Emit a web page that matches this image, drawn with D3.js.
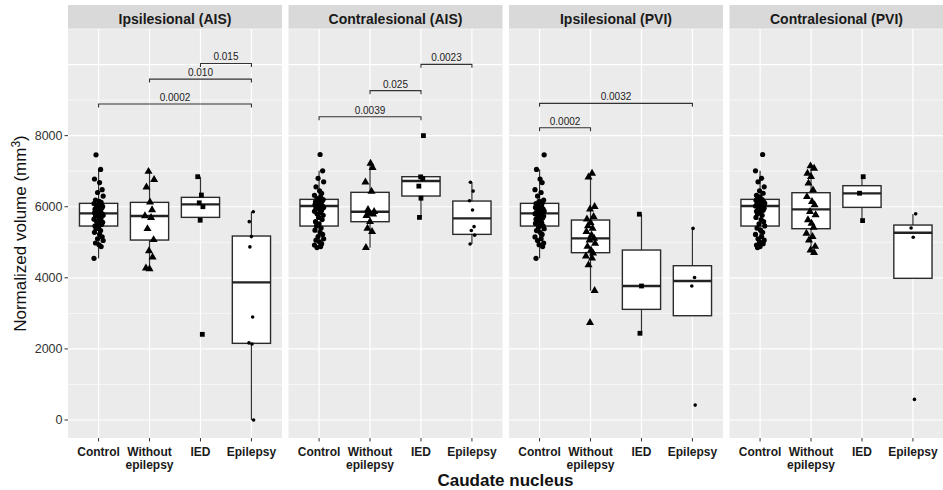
<!DOCTYPE html>
<html>
<head>
<meta charset="utf-8">
<script src="https://cdn.jsdelivr.net/npm/d3@7"></script>
<style>
  body { margin: 0; background: #fff; }
  text { font-family: "Liberation Sans", Arial, sans-serif; }
</style>
</head>
<body>
<svg id="chart" width="943" height="490"></svg>
<script>
// facets and groups
var panels = ["Ipsilesional (AIS)", "Contralesional (AIS)", "Ipsilesional (PVI)", "Contralesional (PVI)"];
var groups = ["Control", "Without epilepsy", "IED", "Epilepsy"];
var groupLabels = [["Control"], ["Without", "epilepsy"], ["IED"], ["Epilepsy"]];
var yTicks = [0, 2000, 4000, 6000, 8000];

// box statistics, one row per panel, one value per group
var q1Vals  = [[5457, 5063, 5701, 2157], [5457, 5579, 6301, 5223], [5457, 4707, 3113, 2934], [5457, 5382, 5982, 3986]];
var medVals = [[5814, 5739, 6067, 3873], [6020, 5860, 6723, 5673], [5814, 5110, 3769, 3910], [6020, 5926, 6376, 5270]];
var q3Vals  = [[6095, 6123, 6264, 5176], [6207, 6405, 6845, 6160], [6095, 5626, 4782, 4341], [6207, 6395, 6592, 5485]];
var loVals  = [[4548, 4267, 5607, 0],    [4848, 4848, 5701, 4951], [4548, 3638, 2438, 2934], [4848, 4707, 5607, 3986]];
var hiVals  = [[7052, 6986, 6845, 5860], [7014, 7220, 6845, 6686], [7052, 6939, 5786, 5392], [7014, 7145, 6845, 5795]];

// individual volumes
var ctrlIpsi = [7460, 7050, 6780, 6680, 6480, 6400, 6300, 6190, 6150, 6120, 6090, 6060, 6030, 6010, 5980, 5960,
                5930, 5900, 5880, 5850, 5830, 5810, 5800, 5780, 5760, 5740, 5710, 5680, 5650, 5620, 5590, 5560,
                5530, 5500, 5460, 5420, 5380, 5330, 5280, 5220, 5150, 5100, 5050, 4980, 4930, 4880, 4550];
var ctrlContra = [7470, 7010, 6800, 6700, 6560, 6450, 6380, 6320, 6270, 6230, 6200, 6180, 6160, 6140, 6120, 6100,
                  6080, 6060, 6040, 6020, 6000, 5980, 5960, 5930, 5900, 5870, 5840, 5800, 5760, 5700, 5640, 5580,
                  5520, 5460, 5400, 5340, 5280, 5220, 5160, 5100, 5060, 5010, 4960, 4920, 4880, 4850];
var woIpsiAIS = [6990, 6760, 6550, 6130, 5910, 5740, 5690, 5380, 5070, 4760, 4580, 4270, 4250];
var iedIpsiAIS = [6845, 6330, 6110, 6000, 5620, 2410];
var epiIpsiAIS = [5860, 5580, 5160, 4870, 2900, 2170, 2140, 0];
var woContraAIS = [7220, 7100, 6690, 6430, 5920, 5860, 5810, 5790, 5750, 5580, 5390, 5300, 4850];
var iedContraAIS = [8000, 6840, 6790, 6580, 6240, 5700];
var epiContraAIS = [6690, 6440, 6170, 5910, 5440, 5330, 5200, 4950];
var woIpsiPVI = [6940, 6830, 6000, 5930, 5720, 5650, 5550, 5460, 5390, 5300, 5200, 5110, 5060, 4970, 4880,
                 4780, 4690, 4610, 4550, 4360, 3640, 2740];
var iedIpsiPVI = [5790, 3770, 2440];
var epiIpsiPVI = [5390, 4010, 3770, 420];
var woContraPVI = [7145, 7080, 6940, 6845, 6660, 6470, 6280, 6140, 6050, 5860, 5770, 5630, 5530, 5420, 5250,
                   5160, 5060, 4880, 4780, 4710];
var iedContraPVI = [6845, 6380, 5610];
var epiContraPVI = [5800, 5400, 5140, 580];

var pointSets = [
  [ctrlIpsi, woIpsiAIS, iedIpsiAIS, epiIpsiAIS],
  [ctrlContra, woContraAIS, iedContraAIS, epiContraAIS],
  [ctrlIpsi, woIpsiPVI, iedIpsiPVI, epiIpsiPVI],
  [ctrlContra, woContraPVI, iedContraPVI, epiContraPVI]
];

// horizontal jitter, in category widths
var jitterOffsets = [-0.05, 0.04, -0.08, 0.02, 0.07, -0.02, 0.09, -0.06, 0.01, 0.05, -0.09, 0.03, -0.04, 0.08, -0.01, 0.06, -0.07, 0.0];

// significance brackets
var sigPanel = [0, 0, 0, 1, 1, 1, 2, 2];
var sigFrom  = [0, 1, 2, 0, 1, 2, 0, 0];
var sigTo    = [3, 3, 3, 2, 2, 3, 1, 3];
var sigY     = [8890, 9590, 10030, 8530, 9265, 10006, 8222, 8909];
var sigLabel = ["0.0002", "0.010", "0.015", "0.0039", "0.025", "0.0023", "0.0002", "0.0032"];

var svg = d3.select("#chart");
var panelTop = 29, panelBottom = 438, stripTop = 5;

var facet = d3.scaleBand().domain(panels).range([68, 943.5]).paddingInner(0.0295);
var y = d3.scaleLinear().domain([-506, 11000]).range([panelBottom, panelTop]);

var shapeFor = function (g, sel) {
  if (g == 0) return sel.append("circle").attr("r", 2.6);
  if (g == 1) return sel.append("path").attr("d", d3.symbol(d3.symbolTriangle).size(28)());
  if (g == 2) return sel.append("rect").attr("x", -2.4).attr("y", -2.4).attr("width", 4.8).attr("height", 4.8);
  return sel.append("circle").attr("r", 1.8);
};

panels.forEach(function (name, p) {
  var x0 = facet(name), w = facet.bandwidth();
  var x = d3.scalePoint().domain(groups).range([0, w]).padding(0.6);
  var step = x.step();
  var g = svg.append("g").attr("transform", "translate(" + x0 + ",0)");

  // strip
  g.append("rect").attr("x", 0).attr("y", stripTop).attr("width", w).attr("height", panelTop - stripTop).attr("fill", "#d9d9d9");
  g.append("text").attr("x", w / 2).attr("y", 23.5).attr("text-anchor", "middle")
    .style("font-size", "14px").style("font-weight", "bold").attr("fill", "#1a1a1a").text(name);

  // panel background + grid
  g.append("rect").attr("x", 0).attr("y", panelTop).attr("width", w).attr("height", panelBottom - panelTop).attr("fill", "#ebebeb");
  d3.range(1000, 11001, 2000).forEach(function (v) {
    g.append("line").attr("x1", 0).attr("x2", w).attr("y1", y(v)).attr("y2", y(v))
      .attr("stroke", "#fff").attr("stroke-width", 0.6);
  });
  d3.range(0, 10001, 2000).forEach(function (v) {
    g.append("line").attr("x1", 0).attr("x2", w).attr("y1", y(v)).attr("y2", y(v))
      .attr("stroke", "#fff").attr("stroke-width", 1.2);
  });
  groups.forEach(function (gr) {
    g.append("line").attr("x1", x(gr)).attr("x2", x(gr)).attr("y1", panelTop).attr("y2", panelBottom)
      .attr("stroke", "#fff").attr("stroke-width", 1.2);
  });

  // boxes
  groups.forEach(function (gr, i) {
    var cx = x(gr), bw = step * 0.75;
    g.append("line").attr("x1", cx).attr("x2", cx).attr("y1", y(loVals[p][i])).attr("y2", y(q1Vals[p][i]))
      .attr("stroke", "#333").attr("stroke-width", 1.2);
    g.append("line").attr("x1", cx).attr("x2", cx).attr("y1", y(q3Vals[p][i])).attr("y2", y(hiVals[p][i]))
      .attr("stroke", "#333").attr("stroke-width", 1.2);
    g.append("rect").attr("x", cx - bw / 2).attr("width", bw)
      .attr("y", y(q3Vals[p][i])).attr("height", y(q1Vals[p][i]) - y(q3Vals[p][i]))
      .attr("fill", "#fff").attr("stroke", "#2b2b2b").attr("stroke-width", 1.4);
    g.append("line").attr("x1", cx - bw / 2).attr("x2", cx + bw / 2)
      .attr("y1", y(medVals[p][i])).attr("y2", y(medVals[p][i]))
      .attr("stroke", "#222").attr("stroke-width", 2.4);

    // jittered points
    var pts = pointSets[p][i];
    var pg = g.append("g").attr("fill", "#000");
    pts.forEach(function (v, k) {
      var off = jitterOffsets[(k + i * 5 + p * 3) % jitterOffsets.length];
      if (i >= 2) off = off * 0.6;
      shapeFor(i, pg.append("g").attr("transform", "translate(" + (cx + off * step) + "," + y(v) + ")"));
    });
  });

  // x ticks and labels
  groups.forEach(function (gr, i) {
    g.append("line").attr("x1", x(gr)).attr("x2", x(gr)).attr("y1", panelBottom).attr("y2", panelBottom + 3.5)
      .attr("stroke", "#333").attr("stroke-width", 1);
    var t = g.append("text").attr("text-anchor", "middle").attr("x", x(gr)).attr("y", 455.5)
      .style("font-size", "12px").style("font-weight", "bold").attr("fill", "#1a1a1a");
    groupLabels[i].forEach(function (line, j) {
      t.append("tspan").attr("x", x(gr)).attr("y", 455.5 + j * 13).text(line);
    });
  });

  // brackets
  sigPanel.forEach(function (sp, k) {
    if (sp != p) return;
    var xa = x(groups[sigFrom[k]]), xb = x(groups[sigTo[k]]), yy = y(sigY[k]);
    g.append("path").attr("d", "M" + xa + "," + (yy + 3.5) + "V" + yy + "H" + xb + "V" + (yy + 3.5))
      .attr("fill", "none").attr("stroke", "#333").attr("stroke-width", 1.1);
    g.append("text").attr("x", (xa + xb) / 2).attr("y", yy - 3).attr("text-anchor", "middle")
      .style("font-size", "10px").attr("fill", "#222").text(sigLabel[k]);
  });
});

// y axis on the first panel
var yAxis = svg.append("g").attr("transform", "translate(" + facet(panels[0]) + ",0)");
yTicks.forEach(function (v) {
  yAxis.append("line").attr("x1", -3.5).attr("x2", 0).attr("y1", y(v)).attr("y2", y(v))
    .attr("stroke", "#333").attr("stroke-width", 1);
  yAxis.append("text").attr("x", -5.5).attr("y", y(v)).attr("dy", "0.35em").attr("text-anchor", "end")
    .style("font-size", "12.5px").attr("fill", "#333").text(v);
});

// axis titles
svg.append("text").attr("x", (68 + 943) / 2).attr("y", 486).attr("text-anchor", "middle")
  .style("font-size", "17px").style("font-weight", "bold").attr("fill", "#111").text("Caudate nucleus");
var yt = svg.append("text").attr("transform", "translate(26," + ((panelTop + panelBottom) / 2) + ") rotate(-90)")
  .attr("text-anchor", "middle").style("font-size", "17px").attr("fill", "#111");
yt.append("tspan").text("Normalized volume (mm");
yt.append("tspan").attr("dy", -6).style("font-size", "12px").text("3");
yt.append("tspan").attr("dy", 6).text(")");
</script>
</body>
</html>
